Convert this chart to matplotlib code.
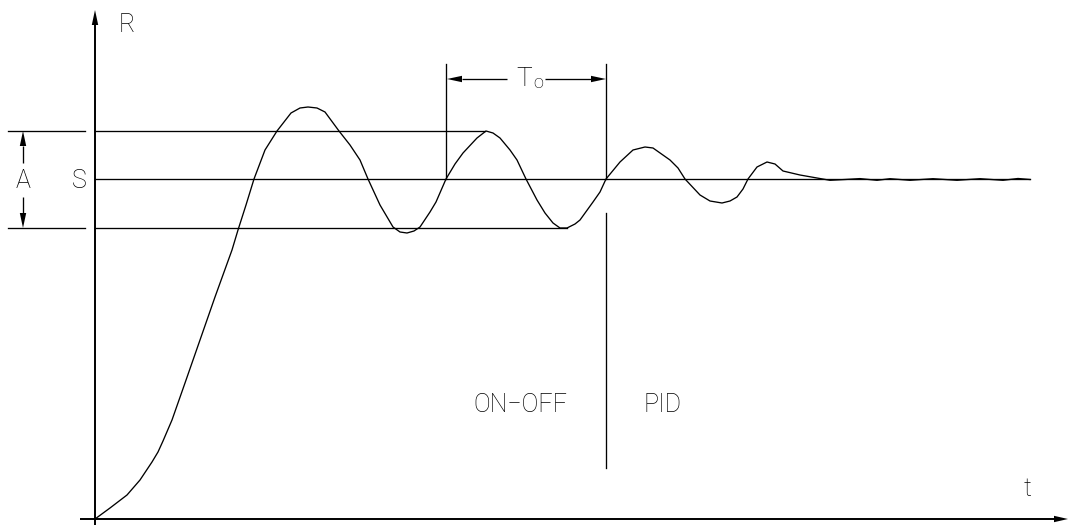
import matplotlib
matplotlib.use("Agg")
import matplotlib.pyplot as plt
import numpy as np

# ---- data (in drawing units: x = time, y = response, y grows downward) ----
curve_t = [95, 110, 127, 140, 152, 158, 163, 172, 185, 200, 215, 232, 238, 246, 254, 265, 277,
           291, 300, 308, 317, 325, 339, 350, 360, 368, 380, 393, 400, 407, 414, 420, 430, 436,
           446, 455, 463, 477, 486, 493, 500, 510, 517, 526, 537, 545, 553, 560, 567, 575, 580,
           593, 600, 606, 620, 633, 645, 653, 670, 678, 685, 700, 710, 722, 730, 737, 743, 748,
           757, 767, 775, 783, 800, 817, 830, 845, 860, 877, 890, 910, 933, 957, 980, 1003,
           1018, 1030]
curve_r = [519, 508, 495, 480, 462, 452, 441, 420, 383, 340, 297, 250, 230, 205, 179, 150, 131,
           113, 108, 107, 108, 112, 131, 145, 160, 179, 205, 227, 232, 233, 231, 227, 212, 202,
           179, 164, 153, 138, 131, 133, 138, 150, 160, 179, 200, 213, 223, 228, 228, 224, 220,
           202, 192, 179, 162, 150, 147, 148, 160, 168, 179, 195, 201, 203, 201, 197, 189, 179,
           167, 162, 164, 171, 175, 178, 180.3, 179.5, 178.6, 180.3, 178.7, 180.3, 178.7, 180.3,
           178.7, 180.3, 178.5, 179.5]

setpoint = 179          # S
upper_level = 131       # S + A/2
lower_level = 228       # S - A/2
t_on_off_start = 446    # start of measured period
t_switch = 606          # ON-OFF -> PID switch

labels = {"R": "R", "t": "t", "S": "S", "A": "A", "T": "T", "o": "o",
          "onoff": "ON\u2212OFF", "pid": "PID"}

# ---- figure ----
W, H = 1070, 526
fig = plt.figure(figsize=(W / 100, H / 100), dpi=100)
ax = fig.add_axes([0, 0, 1, 1])
ax.set_xlim(0, W)
ax.set_ylim(H, 0)
ax.axis("off")

K = "black"
thin = 0.95
fontkw = dict(family=["Roboto", "DejaVu Sans"], fontweight="light", color=K)


def arrow(tip, tail, head_len=15, head_w=3.2, lw=thin):
    tip = np.array(tip, float)
    tail = np.array(tail, float)
    d = tip - tail
    L = np.hypot(*d)
    u = d / L
    n = np.array([-u[1], u[0]])
    base = tip - u * head_len
    ax.plot([tail[0], base[0]], [tail[1], base[1]], color=K, lw=lw, solid_capstyle="butt")
    tri = np.array([tip, base + n * head_w, base - n * head_w])
    ax.fill(tri[:, 0], tri[:, 1], color=K, lw=0)


# axes
arrow((95, 10), (95, 525), lw=1.4)
arrow((1068, 519), (80, 519), head_len=14, lw=1.4)

# reference levels
ax.plot([95, 485], [upper_level, upper_level], color=K, lw=thin)
ax.plot([95, 1030], [setpoint, setpoint], color=K, lw=thin)
ax.plot([95, 567], [lower_level, lower_level], color=K, lw=thin)
ax.plot([8, 85], [upper_level, upper_level], color=K, lw=thin)
ax.plot([8, 85], [lower_level, lower_level], color=K, lw=thin)

# amplitude dimension
arrow((23, upper_level), (23, 163))
arrow((23, lower_level), (23, 197))

# period dimension
ax.plot([t_on_off_start, t_on_off_start], [64, setpoint], color=K, lw=thin)
ax.plot([t_switch, t_switch], [64, setpoint], color=K, lw=thin)
ax.plot([t_switch, t_switch], [213, 468], color=K, lw=thin)
arrow((t_on_off_start + 1, 79), (507, 79))
arrow((t_switch, 79), (545, 79))

# response curve
ax.plot(curve_t, curve_r, color=K, lw=thin)

# texts
fs = 18
ax.text(127, 25, labels["R"], fontsize=fs, ha="center", va="center", **fontkw)
ax.text(1027, 489, labels["t"], fontsize=fs, ha="center", va="center", **fontkw)
ax.text(79, 181, labels["S"], fontsize=fs, ha="center", va="center", **fontkw)
ax.text(23, 181, labels["A"], fontsize=fs, ha="center", va="center", **fontkw)
ax.text(532, 79, labels["T"], fontsize=19, ha="right", va="center", **fontkw)
ax.text(533, 83, labels["o"], fontsize=13, ha="left", va="center", **fontkw)
ax.text(520, 405, labels["onoff"], fontsize=fs, ha="center", va="center", **fontkw)
ax.text(663, 405, labels["pid"], fontsize=fs, ha="center", va="center", **fontkw)

fig.savefig("out.png", dpi=100, facecolor="white")
